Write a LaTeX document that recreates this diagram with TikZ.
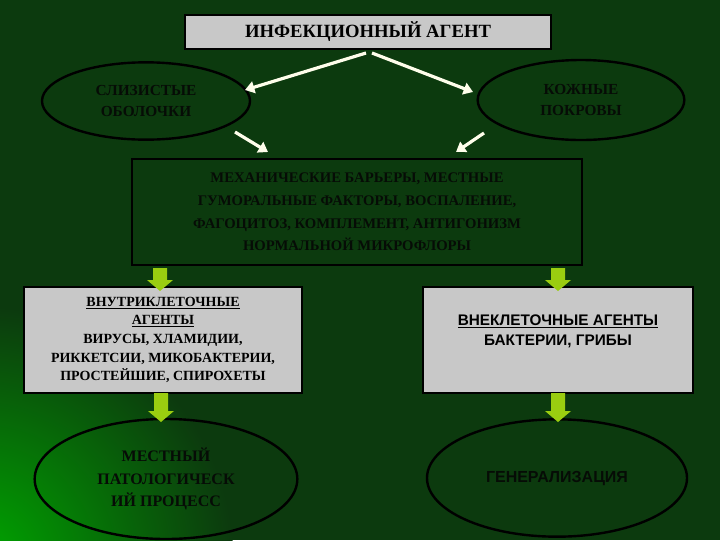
\documentclass[tikz,border=0pt]{standalone}
\usepackage{fontspec}
\setmainfont{Liberation Serif}
\newfontfamily\sansb{Liberation Sans}
\usetikzlibrary{shapes.geometric,arrows.meta}
\definecolor{bg}{HTML}{0C3A0E}
\definecolor{dk}{HTML}{060C06}
\definecolor{gbox}{HTML}{C8C8C8}
\definecolor{ga}{HTML}{9ACD10}
\tikzset{
 gray box/.style={draw=black,line width=1.5pt,fill=gbox,text=black,font=\bfseries,align=center},
 dark box/.style={draw=black,line width=1.5pt,text=dk,font=\bfseries,align=center},
 oval/.style={ellipse,draw=black,line width=1.8pt,text=dk,font=\bfseries\fontsize{11.5}{16}\selectfont,align=center,inner sep=0pt},
 wa/.style={draw=white!92!yellow,line width=2.4pt,-{Triangle[length=7pt,width=9pt]}},
 garrow/.style={fill=ga,draw=none}
}
\newcommand\greenarrow[3]{\fill[garrow] (#1-7,#2) -- (#1+7,#2) -- (#1+7,#2+#3) -- (#1+13,#2+#3) -- (#1,#2+#3+11) -- (#1-13,#2+#3) -- (#1-7,#2+#3) -- cycle;}
\begin{document}
\begin{tikzpicture}[x=0.75pt,y=-0.75pt]
\useasboundingbox (0,0) rectangle (720,540);
\fill[bg] (0,0) rectangle (720,540);
\begin{scope}
\clip (0,0) rectangle (720,540);
\shade[inner color=green!65!black,outer color=bg] (-20,560) circle (190pt);
\end{scope}

\node[gray box,minimum width=275pt,minimum height=26pt,font=\bfseries\fontsize{14}{16}\selectfont] (title) at (368,32) {ИНФЕКЦИОННЫЙ АГЕНТ};
\node[oval,minimum width=156pt,minimum height=58pt] (muc) at (146,101) {СЛИЗИСТЫЕ\\ОБОЛОЧКИ};
\node[oval,minimum width=155pt,minimum height=60pt] (skin) at (581,100) {КОЖНЫЕ\\ПОКРОВЫ};
\node[dark box,minimum width=337pt,minimum height=79pt,font=\bfseries\fontsize{11}{17}\selectfont] (barr) at (357,212) {МЕХАНИЧЕСКИЕ БАРЬЕРЫ, МЕСТНЫЕ\\ГУМОРАЛЬНЫЕ ФАКТОРЫ, ВОСПАЛЕНИЕ,\\ФАГОЦИТОЗ, КОМПЛЕМЕНТ, АНТИГОНИЗМ\\НОРМАЛЬНОЙ МИКРОФЛОРЫ};
\node[gray box,minimum width=208pt,minimum height=79pt,font=\bfseries\fontsize{10.5}{14}\selectfont] (intra) at (163,340) {\underline{ВНУТРИКЛЕТОЧНЫЕ}\\\underline{АГЕНТЫ}\\ВИРУСЫ, ХЛАМИДИИ,\\РИККЕТСИИ, МИКОБАКТЕРИИ,\\ПРОСТЕЙШИЕ, СПИРОХЕТЫ};
\node[gray box,minimum width=203pt,minimum height=79pt] (extra) at (558,340) {};
\node[font=\sansb\bfseries\fontsize{11.5}{15}\selectfont,align=center,text=black] (extrat) at (558,331) {\underline{ВНЕКЛЕТОЧНЫЕ АГЕНТЫ}\\БАКТЕРИИ, ГРИБЫ};
\node[oval,minimum width=197pt,minimum height=90pt,font=\bfseries\fontsize{12}{17}\selectfont] (local) at (166,479) {МЕСТНЫЙ\\ПАТОЛОГИЧЕСК\\ИЙ ПРОЦЕСС};
\node[oval,minimum width=195pt,minimum height=88pt,font=\sansb\bfseries\fontsize{12}{15}\selectfont] (gen) at (557,478) {ГЕНЕРАЛИЗАЦИЯ};

\coordinate (t1) at (366,53); \coordinate (t2) at (372,53);
\coordinate (m1) at (245,90); \coordinate (s1) at (473,92);
\coordinate (m2) at (235,132); \coordinate (b1) at (268,152);
\coordinate (s2) at (484,133); \coordinate (b2) at (456,152);
\draw[wa] (t1) -- (m1);
\draw[wa] (t2) -- (s1);
\draw[wa] (m2) -- (b1);
\draw[wa] (s2) -- (b2);

\greenarrow{160}{268}{12}
\greenarrow{558}{268}{12}
\greenarrow{161}{393}{18}
\greenarrow{558}{393}{18}
\end{tikzpicture}
\end{document}
